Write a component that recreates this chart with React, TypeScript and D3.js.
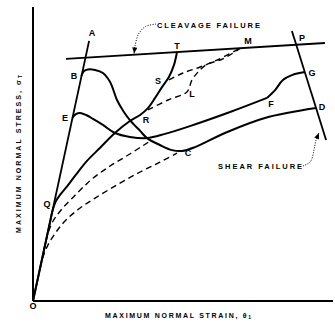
import React from "react";
import * as d3 from "d3";

// Data in chart units: strain (x) 0..100, stress (y) 0..100
type P = [number, number];

const elasticLineOA: P[] = [[0, 0], [18.7, 86.7]];
const cleavageLine: P[] = [[11, 80.7], [97.3, 86]];
const shearLine: P[] = [[86.3, 90], [97.7, 53.7]];

const curveBCD: P[] = [
  [16.1, 75], [17, 76.7], [18.3, 77.2], [20.7, 77], [23.3, 76], [25.7, 73], [28, 67],
  [30.3, 63], [32.3, 60.3], [35.7, 56.7], [38, 54.3], [42.3, 52], [46.3, 50.3], [49.7, 50],
  [54, 51.3], [64, 56], [77.3, 61], [94.3, 64.3],
];
const curveEF: P[] = [
  [13.1, 61], [14.3, 62.3], [15.7, 62.7], [17.7, 62], [20, 60.7], [23.3, 58.7], [27.3, 56],
  [32.3, 54.7], [38, 54.3], [44, 55.7], [52.3, 58.3], [65.7, 63], [78, 67.7],
];
const curveFG: P[] = [[78, 67.7], [80.7, 70.3], [83.3, 73.7], [86.3, 75.3], [90.7, 76.3]];
const curveOQRST: P[] = [
  [0, 0], [3, 13.9], [5.5, 25.5], [6.6, 30.4], [7.6, 33.2], [9.2, 35.6], [11.5, 38.4], [14, 41.7],
  [18, 46.7], [22.3, 51], [27.3, 56], [32.3, 60], [35.7, 62], [38.3, 64.3], [40.7, 67.7],
  [43, 71.3], [45.3, 74.7], [47, 78.7], [48, 83],
];
const dashedRLM: P[] = [
  [38.3, 63.7], [45, 67], [51.3, 69.7], [53, 73.7], [55, 76.3], [57.7, 78.7], [63.3, 80.7], [69, 84.2],
];
const dashedSM: P[] = [[45.3, 73.7], [50, 76], [55.7, 78], [61.3, 80.3], [69, 84.2]];
const dashedUpper: P[] = [
  [3.6, 16.7], [4.9, 22.3], [6.6, 26.5], [9.5, 30.5], [13.5, 34.7], [17.5, 38.7], [19.7, 40.7],
  [25.7, 45], [32.3, 49], [39, 53.3],
];
const dashedLower: P[] = [
  [2.4, 11.1], [3.4, 14.9], [5, 18.7], [7.7, 23], [11, 27], [15.7, 31], [20.7, 34.3], [28, 38.7],
  [35.7, 43], [42.3, 46.3], [48, 49.3],
];

const pointLabels: string[] = ["A", "B", "E", "Q", "O", "T", "S", "M", "L", "R", "P", "G", "F", "D", "C"];
const pointLabelPos: P[] = [
  [19.7, 89.3], [13.7, 75], [10.7, 61], [4.7, 32.3], [0, -1.7], [48, 85], [41.7, 73.3], [71.7, 86.7],
  [53, 69], [37.7, 60.3], [89.7, 87.7], [93, 76], [79.3, 65.7], [96.3, 64.7], [51.7, 49.3],
];

const cleavageText = "CLEAVAGE FAILURE";
const cleavageTextPos: P[] = [[41.3, 92]];
const cleavageLeader: P[] = [[41, 92.3], [37.5, 91.5], [35.2, 89], [34, 85], [33.7, 82.5]];
const shearText = "SHEAR FAILURE";
const shearTextPos: P[] = [[61.7, 44.7]];
const shearLeader: P[] = [[90, 45], [92.5, 46.5], [93.6, 50], [94.3, 53.5], [95.3, 56]];

const xTitle = "MAXIMUM NORMAL STRAIN, θ";
const yTitle = "MAXIMUM NORMAL STRESS, σ";

const W = 335;
const H = 328;

export default function App() {
  const x = d3.scaleLinear().domain([0, 100]).range([33, 333]);
  const y = d3.scaleLinear().domain([0, 100]).range([301, 1]);
  const smooth = d3.line<P>().x((d) => x(d[0])).y((d) => y(d[1])).curve(d3.curveCatmullRom.alpha(0.5));
  const straight = d3.line<P>().x((d) => x(d[0])).y((d) => y(d[1]));

  const font = "'Liberation Sans', Arial, sans-serif";

  const arrowHead = (pts: P[]) => {
    const a = pts[pts.length - 2];
    const b = pts[pts.length - 1];
    const x1 = x(a[0]), y1 = y(a[1]), x2 = x(b[0]), y2 = y(b[1]);
    const ang = Math.atan2(y2 - y1, x2 - x1);
    const L = 6, Wd = 2.6;
    const bx = x2 - L * Math.cos(ang), by = y2 - L * Math.sin(ang);
    const px = -Math.sin(ang), py = Math.cos(ang);
    return `M${x2},${y2}L${bx + px * Wd},${by + py * Wd}L${bx - px * Wd},${by - py * Wd}Z`;
  };

  return (
    <svg width={W} height={H} style={{ position: "absolute", left: 0, top: 0, background: "#fff" }}>
      <rect width={W} height={H} fill="#fff" />
      {/* axes */}
      <line x1={x(0)} y1={7} x2={x(0)} y2={y(0)} stroke="#000" strokeWidth={2} />
      <line x1={x(0)} y1={y(0)} x2={x(100)} y2={y(0)} stroke="#000" strokeWidth={1.8} />

      {/* reference lines */}
      <path d={straight(elasticLineOA) || ""} stroke="#000" strokeWidth={1.8} fill="none" />
      <path d={straight(cleavageLine) || ""} stroke="#000" strokeWidth={1.8} fill="none" />
      <path d={straight(shearLine) || ""} stroke="#000" strokeWidth={1.8} fill="none" />

      {/* solid curves */}
      <path d={smooth(curveBCD) || ""} stroke="#000" strokeWidth={2} fill="none" />
      <path d={smooth(curveEF) || ""} stroke="#000" strokeWidth={2} fill="none" />
      <path d={smooth(curveFG) || ""} stroke="#000" strokeWidth={2} fill="none" />
      <path d={smooth(curveOQRST) || ""} stroke="#000" strokeWidth={2} fill="none" />

      {/* dashed curves */}
      {[dashedRLM, dashedSM, dashedUpper, dashedLower].map((c, i) => (
        <path key={i} d={smooth(c) || ""} stroke="#000" strokeWidth={1.4} fill="none" strokeDasharray="6,4" />
      ))}

      {/* leaders */}
      <path d={smooth(cleavageLeader) || ""} stroke="#000" strokeWidth={1} fill="none" strokeDasharray="1,1.5" />
      <path d={arrowHead(cleavageLeader)} fill="#000" />
      <path d={smooth(shearLeader) || ""} stroke="#000" strokeWidth={1} fill="none" strokeDasharray="1,1.5" />
      <path d={arrowHead(shearLeader)} fill="#000" />

      {/* annotation texts */}
      <text x={x(cleavageTextPos[0][0])} y={y(cleavageTextPos[0][1])} dominantBaseline="central"
        fontFamily={font} fontSize={7.5} fontWeight="bold" textLength={103} lengthAdjust="spacing">{cleavageText}</text>
      <text x={x(shearTextPos[0][0])} y={y(shearTextPos[0][1])} dominantBaseline="central"
        fontFamily={font} fontSize={7.5} fontWeight="bold" textLength={84} lengthAdjust="spacing">{shearText}</text>

      {pointLabels.map((t, i) => (
        <text key={t} x={x(pointLabelPos[i][0])} y={y(pointLabelPos[i][1])} textAnchor="middle"
          dominantBaseline="central" fontFamily={font} fontSize={9} fontWeight="bold">{t}</text>
      ))}

      {/* axis titles */}
      <text x={105} y={315} dominantBaseline="central" fontFamily={font} fontSize={7} fontWeight="bold"
        textLength={146} lengthAdjust="spacing">{xTitle}<tspan fontSize={5} dy={2}>1</tspan></text>
      <text transform="translate(18,233) rotate(-90)" dominantBaseline="central" fontFamily={font}
        fontSize={7} fontWeight="bold" textLength={158} lengthAdjust="spacing">{yTitle}<tspan fontSize={5} dy={2}>T</tspan></text>
    </svg>
  );
}
